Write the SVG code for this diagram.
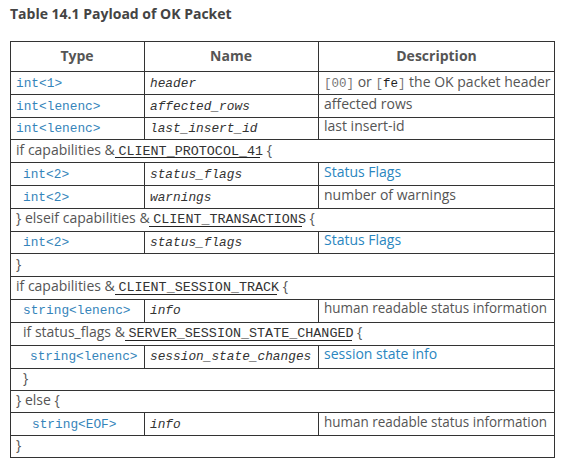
<svg xmlns="http://www.w3.org/2000/svg" width="572" height="471" viewBox="0 0 572 471">
<style>
.bg{fill:#fff}
.ln{stroke:#333;stroke-width:1;fill:none}
.title{font-family:"Open Sans","Liberation Sans",sans-serif;font-weight:bold;font-size:14px;fill:#444}
.th{font-family:"Open Sans","Liberation Sans",sans-serif;font-weight:bold;font-size:14px;fill:#555;text-anchor:middle}
.tp{font-family:"Liberation Mono","DejaVu Sans Mono",monospace;font-size:12.8px;fill:#3584ba}
.nm{font-family:"Liberation Mono","DejaVu Sans Mono",monospace;font-style:italic;font-size:12.8px;fill:#333}
.ds{font-family:"Open Sans","Liberation Sans",sans-serif;font-size:14px;fill:#555}
.lk{fill:#2a86c0}
.cd{font-family:"Liberation Mono","DejaVu Sans Mono",monospace;font-size:13.4px;fill:#333}
.cg{font-family:"Liberation Mono","DejaVu Sans Mono",monospace;font-size:12.5px;fill:#777}
.ul{stroke:#222;stroke-width:1}
</style>
<rect class="bg" x="0" y="0" width="572" height="471"/>
<text class="title" x="10" y="19">Table 14.1 Payload of OK Packet</text>

<g id="connectors">
<rect class="ln" x="10.5" y="41.5" width="544" height="416"/>
<path class="ln" d="M10 71.5H555M10 94.5H555M10 117.5H555M10 139.5H555M10 162.5H555M10 185.5H555M10 208.5H555M10 231.5H555M10 253.5H555M10 276.5H555M10 299.5H555M10 322.5H555M10 345.5H555M10 368.5H555M10 390.5H555M10 412.5H555M10 435.5H555"/>
<path class="ln" d="M144.5 41V139M318.5 41V139M144.5 162V208M318.5 162V208M144.5 231V253M318.5 231V253M144.5 299V322M318.5 299V322M144.5 345V368M318.5 345V368M144.5 412V435M318.5 412V435"/>
</g>

<g id="header">
<text class="th" x="77" y="61">Type</text>
<text class="th" x="231" y="61">Name</text>
<text class="th" x="436.5" y="61">Description</text>
</g>

<g id="row-header">
<text class="tp" x="16" y="87">int&lt;1&gt;</text>
<text class="nm" x="150" y="87">header</text>
<text class="ds" x="324" y="87"><tspan class="cg">[00]</tspan> or <tspan class="cg">[<tspan fill="#222">fe</tspan>]</tspan> the OK packet header</text>
</g>

<g id="row-affected">
<text class="tp" x="16" y="110">int&lt;lenenc&gt;</text>
<text class="nm" x="150" y="110">affected_rows</text>
<text class="ds" x="324" y="109">affected rows</text>
</g>

<g id="row-lastid">
<text class="tp" x="16" y="132">int&lt;lenenc&gt;</text>
<text class="nm" x="150" y="132">last_insert_id</text>
<text class="ds" x="324" y="131">last insert-id</text>
</g>

<g id="if-protocol41">
<text class="ds" x="16" y="155">if capabilities &amp; <tspan class="cd">CLIENT_PROTOCOL_41</tspan> {</text>
<line class="ul" x1="115" y1="157.5" x2="260" y2="157.5"/>
</g>

<g id="row-status1">
<text class="tp" x="23" y="178">int&lt;2&gt;</text>
<text class="nm" x="150" y="178">status_flags</text>
<text class="ds lk" x="324" y="177">Status Flags</text>
</g>

<g id="row-warnings">
<text class="tp" x="23" y="201">int&lt;2&gt;</text>
<text class="nm" x="150" y="201">warnings</text>
<text class="ds" x="324" y="200">number of warnings</text>
</g>

<g id="elseif-transactions">
<text class="ds" x="16" y="223">} elseif capabilities &amp; <tspan class="cd">CLIENT_TRANSACTIONS</tspan> {</text>
<line class="ul" x1="149" y1="226.5" x2="302" y2="226.5"/>
</g>

<g id="row-status2">
<text class="tp" x="23" y="246">int&lt;2&gt;</text>
<text class="nm" x="150" y="246">status_flags</text>
<text class="ds lk" x="324" y="245">Status Flags</text>
</g>

<g id="close1">
<text class="ds" x="16" y="269">}</text>
</g>

<g id="if-session-track">
<text class="ds" x="16" y="291">if capabilities &amp; <tspan class="cd">CLIENT_SESSION_TRACK</tspan> {</text>
<line class="ul" x1="115" y1="294.5" x2="277" y2="294.5"/>
</g>

<g id="row-info1">
<text class="tp" x="23" y="314">string&lt;lenenc&gt;</text>
<text class="nm" x="150" y="314">info</text>
<text class="ds" x="324" y="313" textLength="223" lengthAdjust="spacingAndGlyphs">human readable status information</text>
</g>

<g id="if-state-changed">
<text class="ds" x="23" y="337">if status_flags &amp; <tspan class="cd">SERVER_SESSION_STATE_CHANGED</tspan> {</text>
<line class="ul" x1="125" y1="340.5" x2="352" y2="340.5"/>
</g>

<g id="row-session-state">
<text class="tp" x="30" y="360">string&lt;lenenc&gt;</text>
<text class="nm" x="150" y="360">session_state_changes</text>
<text class="ds lk" x="324" y="359">session state info</text>
</g>

<g id="close2">
<text class="ds" x="23" y="383">}</text>
</g>

<g id="else">
<text class="ds" x="16" y="405">} else {</text>
</g>

<g id="row-info2">
<text class="tp" x="32" y="428">string&lt;EOF&gt;</text>
<text class="nm" x="150" y="428">info</text>
<text class="ds" x="324" y="427" textLength="223" lengthAdjust="spacingAndGlyphs">human readable status information</text>
</g>

<g id="close3">
<text class="ds" x="16" y="450">}</text>
</g>
</svg>
